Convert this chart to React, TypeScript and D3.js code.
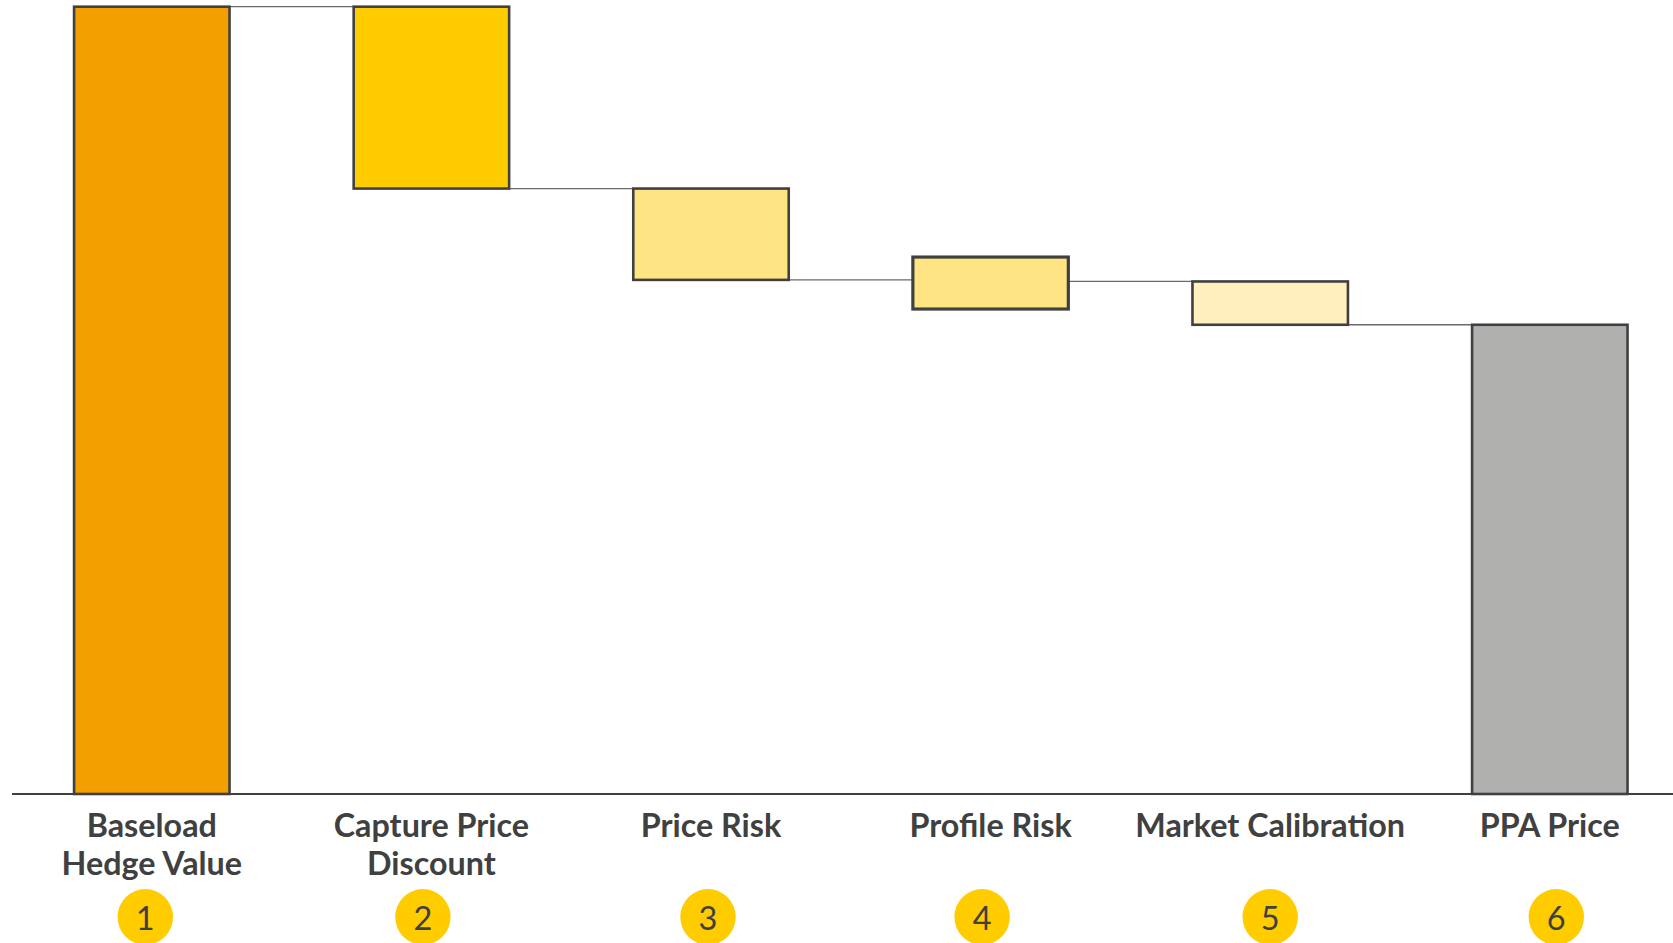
import React from "react";
import * as d3 from "d3";

// ---- data ----
const categories = [
  "Baseload Hedge Value",
  "Capture Price Discount",
  "Price Risk",
  "Profile Risk",
  "Market Calibration",
  "PPA Price",
];
const labelLines = [
  ["Baseload", "Hedge Value"],
  ["Capture Price", "Discount"],
  ["Price Risk"],
  ["Profile Risk"],
  ["Market Calibration"],
  ["PPA Price"],
];
// step changes (first = starting total, last = null -> closing total)
const deltas: (number | null)[] = [100, -23.1, -11.6, -0.2, -5.5, null];
// Profile Risk is drawn as an uncertainty range around the running total
const rangeBars: { [k: string]: [number, number] } = {
  "Profile Risk": [61.6, 68.2],
};
const badges = ["1", "2", "3", "4", "5", "6"];
const fills = ["#F39F00", "#FFCC00", "#FFE483", "#FFE483", "#FFF0BE", "#B0B0AF"];

// layout tweaks (badge horizontal nudges, px)
const badgeNudge = [-6.5, -8.5, -3, -8.5, 0, 6.5];

const W = 1673;
const H = 943;

export default function App() {
  const x = d3
    .scaleBand<string>()
    .domain(categories)
    .range([12, 12 + 6 * 279.6])
    .paddingInner(0.444)
    .paddingOuter(0.222);
  const y = d3.scaleLinear().domain([0, 100]).range([794, 6.7]);

  let run = 0;
  const bars = categories.map((c, i) => {
    const d = deltas[i];
    let lo: number, hi: number;
    if (i === 0) {
      lo = 0;
      hi = d as number;
    } else if (d === null) {
      lo = 0;
      hi = run;
    } else {
      lo = Math.min(run, run + d);
      hi = Math.max(run, run + d);
    }
    if (rangeBars[c]) {
      lo = rangeBars[c][0];
      hi = rangeBars[c][1];
    }
    if (d !== null) run = i === 0 ? (d as number) : run + d;
    return { c, i, lo, hi, end: run };
  });

  const bw = x.bandwidth();
  const connectors = bars.slice(0, -1).map((b, i) => ({
    x1: (x(b.c) as number) + bw,
    x2: x(categories[i + 1]) as number,
    v: b.end,
  }));

  const font = "Lato, 'Open Sans', sans-serif";

  return (
    <svg
      width={W}
      height={H}
      style={{ position: "absolute", left: 0, top: 0, background: "#fff" }}
    >
      {connectors.map((c, i) => (
        <line
          key={"c" + i}
          x1={c.x1}
          x2={c.x2}
          y1={y(c.v)}
          y2={y(c.v)}
          stroke="#6a6a6a"
          strokeWidth={1.3}
        />
      ))}
      <line x1={12} x2={W} y1={y(0)} y2={y(0)} stroke="#404040" strokeWidth={2} />
      {bars.map((b) => (
        <rect
          key={b.c}
          x={x(b.c)}
          width={bw}
          y={y(b.hi)}
          height={y(b.lo) - y(b.hi)}
          fill={fills[b.i]}
          stroke="#404040"
          strokeWidth={b.c === "Profile Risk" ? 3.2 : 2.6}
        />
      ))}
      {labelLines.map((lines, i) => (
        <text
          key={"l" + i}
          textAnchor="middle"
          fontFamily={font}
          fontWeight={700}
          fontSize={32.3}
          fill="#404040"
        >
          {lines.map((t, j) => (
            <tspan key={j} x={(x(categories[i]) as number) + bw / 2} y={836.5 + j * 38.3}>
              {t}
            </tspan>
          ))}
        </text>
      ))}
      {badges.map((t, i) => {
        const cx = (x(categories[i]) as number) + bw / 2 + badgeNudge[i];
        return (
          <g key={"b" + i}>
            <ellipse cx={cx} cy={917} rx={27.7} ry={28} fill="#FFCC00" />
            <text
              x={cx}
              y={929.5}
              textAnchor="middle"
              fontFamily={font}
              fontSize={32.5}
              fill="#404040"
            >
              {t}
            </text>
          </g>
        );
      })}
    </svg>
  );
}
